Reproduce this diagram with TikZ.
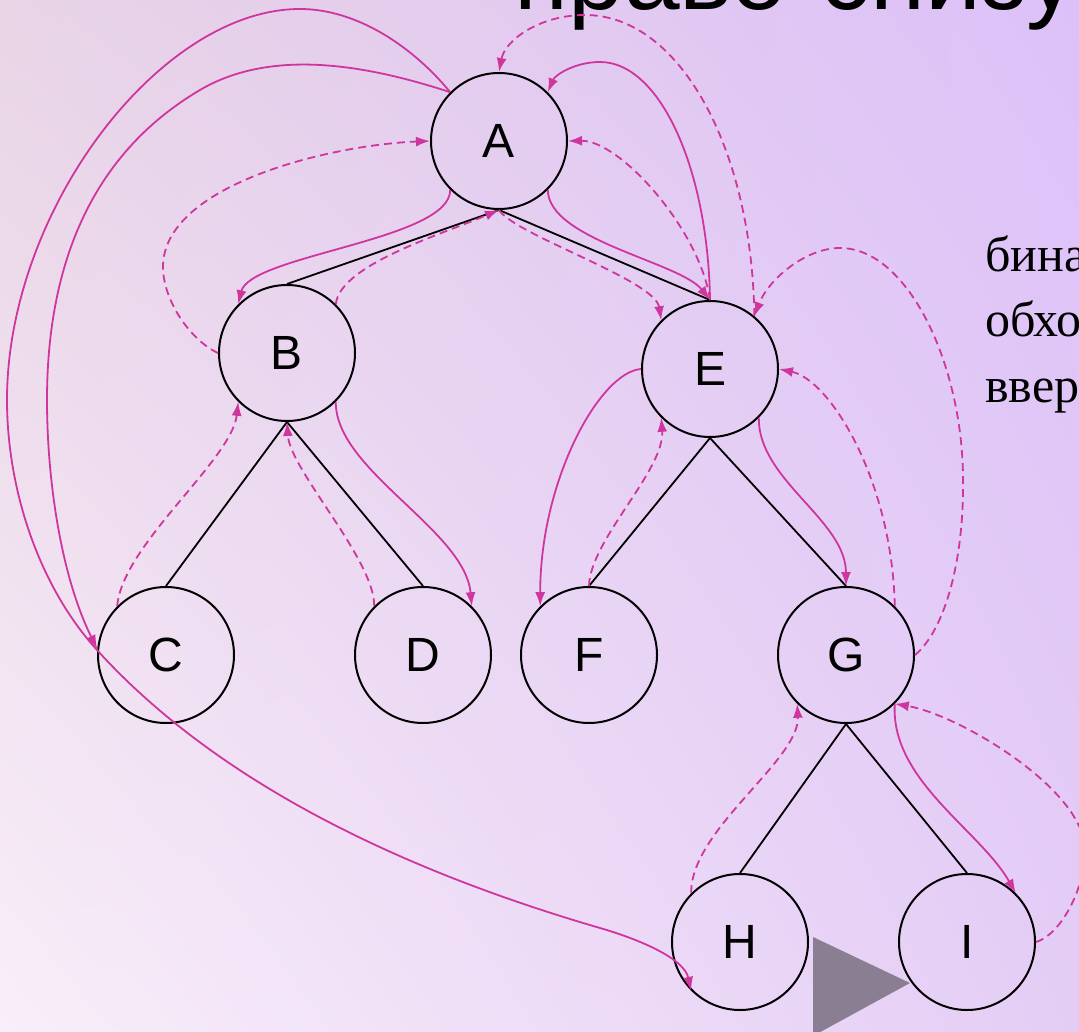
\documentclass[tikz,border=0pt]{standalone}
\usepackage{fontspec}
\setmainfont{Liberation Sans}
\newfontfamily\serifru{Liberation Serif}
\usetikzlibrary{arrows.meta,shadings}
\definecolor{mag}{RGB}{206,54,158}
\definecolor{bgUL}{RGB}{232,212,229}
\definecolor{bgUR}{RGB}{220,193,249}
\definecolor{bgLL}{RGB}{249,238,249}
\definecolor{bgLR}{RGB}{228,205,245}
\definecolor{trigray}{RGB}{138,126,146}
\begin{document}
\begin{tikzpicture}[x=1pt,y=-1pt,
  vertex/.style={circle,draw=black,line width=2pt,minimum size=136pt,inner sep=0pt,font=\fontsize{48}{56}\selectfont},
  treeedge/.style={draw=black,line width=1.8pt},
  visit/.style={draw=mag,line width=1.8pt,-{Latex[length=14pt,width=10pt]}},
  back/.style={visit,dash pattern=on 8pt off 5pt},
  titletext/.style={anchor=base west,inner sep=0pt,font=\fontsize{100}{120}\selectfont},
  sidetext/.style={anchor=base west,inner sep=0pt,font=\serifru\fontsize{50}{60}\selectfont}
]
\useasboundingbox (0,0) rectangle (1079,1032);
\clip (0,0) rectangle (1079,1032);
\shade[upper left=bgUL,upper right=bgUR,lower left=bgLL,lower right=bgLR] (0,0) rectangle (1079,1032);

\node[titletext] (title) at (514,10) {право-снизу};
\node[sidetext] (s1) at (985,272) {бина};
\node[sidetext] (s2) at (985,337) {обхо};
\node[sidetext] (s3) at (985,402) {ввер};

\fill[trigray] (813,937) -- (910,983) -- (813,1036) -- cycle;

\node[vertex] (A) at (499,141) {A};
\node[vertex] (B) at (287,353) {B};
\node[vertex] (E) at (710,369) {E};
\node[vertex] (C) at (166,655) {C};
\node[vertex] (D) at (423,655) {D};
\node[vertex] (F) at (589,655) {F};
\node[vertex] (G) at (846,655) {G};
\node[vertex] (H) at (740,942) {H};
\node[vertex] (I) at (967,942) {I};

\draw[treeedge] (A.south) -- (B.north);
\draw[treeedge] (A.south) -- (E.north);
\draw[treeedge] (B.south) -- (C.north);
\draw[treeedge] (B.south) -- (D.north);
\draw[treeedge] (E.south) -- (F.north);
\draw[treeedge] (E.south) -- (G.north);
\draw[treeedge] (G.south) -- (H.north);
\draw[treeedge] (G.south) -- (I.north);

% solid (visit) connectors
\draw[visit] (A.225) .. controls (451,240) and (250,255) .. (B.135);
\draw[visit] (A.135) .. controls (370,66) and (273,47) .. (200,90)
  .. controls (88,156) and (47,270) .. (47,400)
  .. controls (47,480) and (61,576) .. (C.175);
\draw[visit] (A.135) .. controls (414,48) and (358,9) .. (300,9)
  .. controls (160,9) and (7,210) .. (7,400)
  .. controls (7,488) and (38,585) .. (97,650)
  .. controls (224,790) and (418,875) .. (600,928)
  .. controls (638,939) and (684,958) .. (H.225);
\draw[visit] (A.315) .. controls (548,240) and (680,262) .. (E.north);
\draw[visit] (E.north) .. controls (708,169) and (660,62) .. (600,62)
  .. controls (575,62) and (555,75) .. (A.45);
\draw[visit] (B.315) .. controls (335,470) and (465,530) .. (D.45);
\draw[visit] (E.west) .. controls (600,372) and (540,480) .. (F.135);
\draw[visit] (E.315) .. controls (758,480) and (846,520) .. (G.north);
\draw[visit] (G.315) .. controls (890,780) and (980,830) .. (I.45);

% dashed (return) connectors
\draw[back] (B.45) .. controls (340,265) and (440,235) .. (A.south);
\draw[back] (B.west) .. controls (190,340) and (163,300) .. (163,267)
  .. controls (163,185) and (330,145) .. (A.west);
\draw[back] (A.south) .. controls (515,235) and (655,280) .. (E.135);
\draw[back] (E.north) .. controls (700,230) and (620,140) .. (A.east);
\draw[back] (E.50) .. controls (752,149) and (680,15) .. (585,15)
  .. controls (540,15) and (505,40) .. (A.north);
\draw[back] (C.135) .. controls (122,545) and (232,460) .. (B.225);
\draw[back] (D.135) .. controls (375,560) and (290,470) .. (B.south);
\draw[back] (F.north) .. controls (590,540) and (665,470) .. (E.225);
\draw[back] (G.45) .. controls (892,480) and (830,380) .. (E.east);
\draw[back] (G.east) .. controls (945,630) and (964,560) .. (963,480)
  .. controls (963,365) and (908,248) .. (840,248)
  .. controls (805,248) and (768,280) .. (E.50);
\draw[back] (H.135) .. controls (690,830) and (800,760) .. (G.225);
\draw[back] (I.east) .. controls (1060,935) and (1085,890) .. (1085,850)
  .. controls (1085,790) and (960,715) .. (G.315);
\end{tikzpicture}
\end{document}
